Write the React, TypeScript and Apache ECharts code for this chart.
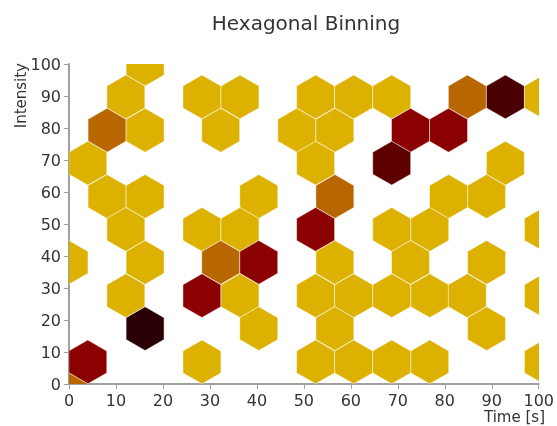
import React, { useEffect, useRef } from "react";
import * as echarts from "echarts";

// Hexagon bin centres (time [s], intensity) and their counts
const binTime = [
  16.2,
  12.1, 28.3, 36.4, 52.5, 60.6, 68.7, 84.8, 92.9, 101.0,
  8.1, 16.2, 32.3, 48.5, 56.6, 72.7, 80.8,
  4.0, 52.5, 68.7, 92.9,
  8.1, 16.2, 40.4, 56.6, 80.8, 88.9,
  12.1, 28.3, 36.4, 52.5, 68.7, 76.8, 101.0,
  0.0, 16.2, 32.3, 40.4, 56.6, 72.7, 88.9,
  12.1, 28.3, 36.4, 52.5, 60.6, 68.7, 76.8, 84.8, 101.0,
  16.2, 40.4, 56.6, 88.9,
  4.0, 28.3, 52.5, 60.6, 68.7, 76.8, 101.0,
  0.0,
];
const binIntensity = [
  100.0,
  89.7, 89.7, 89.7, 89.7, 89.7, 89.7, 89.7, 89.7, 89.7,
  79.3, 79.3, 79.3, 79.3, 79.3, 79.3, 79.3,
  69.0, 69.0, 69.0, 69.0,
  58.6, 58.6, 58.6, 58.6, 58.6, 58.6,
  48.3, 48.3, 48.3, 48.3, 48.3, 48.3, 48.3,
  38.0, 38.0, 38.0, 38.0, 38.0, 38.0, 38.0,
  27.6, 27.6, 27.6, 27.6, 27.6, 27.6, 27.6, 27.6, 27.6,
  17.3, 17.3, 17.3, 17.3,
  6.9, 6.9, 6.9, 6.9, 6.9, 6.9, 6.9,
  -3.4,
];
const binCount = [
  1,
  1, 1, 1, 1, 1, 1, 2, 5, 1,
  2, 1, 1, 1, 1, 3, 3,
  1, 1, 4, 1,
  1, 1, 1, 2, 1, 1,
  1, 1, 1, 3, 1, 1, 1,
  1, 1, 2, 3, 1, 1, 1,
  1, 3, 1, 1, 1, 1, 1, 1, 1,
  6, 1, 1, 1,
  3, 1, 1, 1, 1, 1, 1,
  2,
];

const xTicks = [0, 10, 20, 30, 40, 50, 60, 70, 80, 90, 100];
const yTicks = [0, 10, 20, 30, 40, 50, 60, 70, 80, 90, 100];

const LEVEL_COLORS = ["#DDB100", "#B86600", "#8B0000", "#5E0000", "#4A0002", "#2B0004"];
const BIN_WIDTH = 8.08; // hexagon width in time units

const FONT = "'DejaVu Sans', Verdana, sans-serif";

export default function App() {
  const ref = useRef<HTMLDivElement>(null);

  useEffect(() => {
    if (!ref.current) return;
    const chart = echarts.init(ref.current, undefined, { renderer: "svg" });
    const data = binTime.map((t, i) => [t, binIntensity[i], binCount[i]]);

    const axisCommon = {
      min: xTicks[0],
      max: xTicks[xTicks.length - 1],
      interval: 10,
      axisLine: { show: true, onZero: false, lineStyle: { color: "#a0a0a0", width: 2 } },
      axisTick: { show: true, length: 5, lineStyle: { color: "#a0a0a0", width: 1 } },
      splitLine: { show: false },
      axisLabel: { color: "#333", fontSize: 16, fontFamily: FONT, margin: 8 },
    };

    chart.setOption({
      animation: false,
      grid: { left: 69, right: 13, top: 64, bottom: 42 },
      xAxis: { type: "value", ...axisCommon },
      yAxis: { type: "value", ...axisCommon, min: yTicks[0], max: yTicks[yTicks.length - 1] },
      graphic: [
        {
          type: "text",
          x: 306,
          y: 23,
          style: {
            text: "Hexagonal Binning",
            fill: "#333",
            font: `20px ${FONT}`,
            textAlign: "center",
            textVerticalAlign: "middle",
          },
        },
        {
          type: "text",
          x: 21,
          y: 63,
          rotation: Math.PI / 2,
          style: {
            text: "Intensity",
            fill: "#333",
            font: `15px ${FONT}`,
            textAlign: "right",
            textVerticalAlign: "middle",
          },
        },
        {
          type: "text",
          x: 545,
          y: 417,
          style: {
            text: "Time [s]",
            fill: "#333",
            font: `15px ${FONT}`,
            textAlign: "right",
            textVerticalAlign: "middle",
          },
        },
      ],
      series: [
        {
          type: "custom",
          clip: true,
          encode: { x: 0, y: 1 },
          data,
          renderItem: (params: any, api: any) => {
            const c = api.coord([api.value(0), api.value(1)]);
            const w = api.size([BIN_WIDTH, 0])[0];
            const r = w / Math.sqrt(3);
            const points: number[][] = [];
            for (let k = 0; k < 6; k++) {
              const a = Math.PI / 6 + (k * Math.PI) / 3;
              points.push([c[0] + r * Math.cos(a), c[1] + r * Math.sin(a)]);
            }
            const lvl = api.value(2);
            return {
              type: "polygon",
              shape: { points },
              style: {
                fill: LEVEL_COLORS[lvl - 1],
                stroke: "rgba(255,255,255,0.45)",
                lineWidth: 1,
              },
            };
          },
        },
      ],
    });

    return () => chart.dispose();
  }, []);

  return (
    <div
      ref={ref}
      style={{ position: "fixed", left: 0, top: 0, width: 557, height: 426 }}
    />
  );
}
